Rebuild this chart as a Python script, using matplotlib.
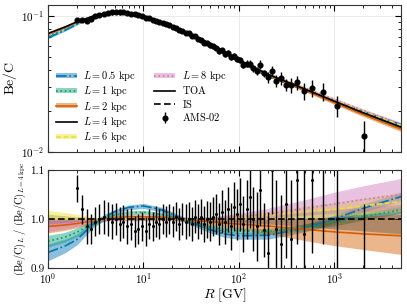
import numpy as np
import matplotlib
matplotlib.use("Agg")
import matplotlib.pyplot as plt
from matplotlib.lines import Line2D
from matplotlib.patches import Patch

plt.rcParams['font.family'] = 'serif'
plt.rcParams['font.serif'] = ['cmr10']
plt.rcParams['mathtext.fontset'] = 'cm'
plt.rcParams['axes.formatter.use_mathtext'] = True

# AMS-02 rigidity bins [GV]
bin_lo = [1.92, 2.15, 2.40, 2.67, 2.97, 3.29, 3.64, 4.02, 4.43, 4.88, 5.37, 5.90, 6.47, 7.09,
          7.76, 8.48, 9.26, 10.1, 11.0, 12.0, 13.0, 14.1, 15.3, 16.6, 18.0, 19.5, 21.1, 22.8,
          24.7, 26.7, 28.8, 31.1, 33.5, 36.1, 38.9, 41.9, 45.1, 48.5, 52.2, 56.1, 60.3, 64.8,
          69.7, 74.9, 80.5, 86.5, 93.0, 100, 108, 116, 125, 135, 147, 160, 175, 192, 211,
          233, 259, 291, 330, 379, 441, 525, 660, 880, 1300]
bin_hi = bin_lo[1:] + [3300]

# Be/C measured (top panel)
bec_data = [0.0935, 0.0925, 0.092, 0.0945, 0.099, 0.1015, 0.1035, 0.1045, 0.1055, 0.106,
            0.1055, 0.1055, 0.1045, 0.1035, 0.102, 0.1005, 0.099, 0.0965, 0.0955, 0.0935,
            0.0915, 0.0895, 0.0885, 0.0865, 0.085, 0.0825, 0.0815, 0.0785, 0.0775, 0.075,
            0.074, 0.071, 0.0705, 0.0675, 0.0665, 0.0635, 0.063, 0.0605, 0.0595, 0.058,
            0.055, 0.0555, 0.0525, 0.0535, 0.0495, 0.0505, 0.048, 0.0475, 0.0435, 0.0445,
            0.0445, 0.041, 0.0395, 0.0438, 0.0377, 0.0355, 0.0392, 0.0331, 0.0347, 0.0312,
            0.031, 0.0324, 0.0282, 0.0295, 0.0277, 0.0219, 0.0131]

# data / model(L=4 kpc) (bottom panel)
ratio_data = [1.063, 1.02, 0.985, 0.98, 0.995, 1.0, 1.005, 1.0, 0.995, 1.0, 0.99, 0.995,
              0.985, 0.99, 0.975, 0.98, 0.985, 0.975, 0.99, 0.985, 0.995, 0.99, 1.0, 0.995,
              1.0, 0.995, 1.005, 0.99, 1.0, 0.995, 1.0, 0.99, 1.005, 0.995, 1.005, 0.99, 1.0,
              0.995, 1.005, 1.01, 0.99, 1.015, 0.995, 1.02, 0.985, 1.025, 1.01, 1.03, 0.99,
              1.02, 1.045, 1.0, 0.985, 1.06, 0.977, 0.93, 1.1, 0.98, 0.95, 1.03, 0.96, 1.08,
              0.97, 1.08, 1.12, 1.0, 0.8]
ratio_err = [0.028, 0.03, 0.035, 0.03, 0.03, 0.03, 0.035, 0.035, 0.035, 0.033, 0.035, 0.033,
             0.035, 0.032, 0.032, 0.03, 0.03, 0.03, 0.03, 0.03, 0.032, 0.03, 0.03, 0.032,
             0.03, 0.032, 0.03, 0.032, 0.033, 0.035, 0.034, 0.035, 0.034, 0.035, 0.036, 0.037,
             0.038, 0.04, 0.04, 0.041, 0.043, 0.044, 0.045, 0.046, 0.048, 0.05, 0.052, 0.055,
             0.057, 0.06, 0.063, 0.066, 0.07, 0.075, 0.055, 0.085, 0.09, 0.1, 0.1, 0.11, 0.12,
             0.13, 0.14, 0.15, 0.17, 0.18, 0.23]

# model grid
grid_R = [1, 1.5, 2, 3, 4, 5, 7, 10, 15, 20, 30, 50, 70, 100, 200, 500, 1000, 2000, 5000]
bec_L4 = [0.074, 0.0825, 0.090, 0.0995, 0.1035, 0.1055, 0.1035, 0.098, 0.089, 0.0835, 0.0745,
          0.0625, 0.0548, 0.0475, 0.0372, 0.0288, 0.0236, 0.0194, 0.0152]

ratio_L05 = [0.932, 0.945, 0.958, 0.990, 1.005, 1.015, 1.024, 1.027, 1.020, 1.010, 0.995,
             0.978, 0.970, 0.966, 0.967, 0.982, 1.000, 1.022, 1.046]
half_L05 = [0.017, 0.014, 0.011, 0.007, 0.006, 0.005, 0.005, 0.005, 0.005, 0.005, 0.005,
            0.006, 0.007, 0.007, 0.008, 0.008, 0.008, 0.008, 0.009]
ratio_L1 = [0.955, 0.963, 0.973, 0.993, 1.002, 1.008, 1.013, 1.014, 1.010, 1.005, 0.995,
            0.984, 0.979, 0.976, 0.975, 0.983, 0.993, 1.005, 1.019]
half_L1 = [0.012, 0.010, 0.009, 0.006, 0.005, 0.004, 0.004, 0.004, 0.004, 0.004, 0.004,
           0.005, 0.005, 0.006, 0.006, 0.007, 0.007, 0.007, 0.007]
ratio_L2 = [0.985, 0.988, 0.991, 0.997, 1.001, 1.003, 1.005, 1.005, 1.004, 1.002, 0.999,
            0.995, 0.992, 0.990, 0.986, 0.979, 0.974, 0.970, 0.966]
lo_L2 = [0.972, 0.977, 0.982, 0.992, 0.997, 0.999, 1.001, 1.001, 1.0, 0.998, 0.994, 0.988,
         0.984, 0.980, 0.970, 0.956, 0.946, 0.938, 0.928]
hi_L2 = [0.998, 0.999, 1.0, 1.002, 1.005, 1.007, 1.009, 1.009, 1.008, 1.006, 1.004, 1.002,
         1.0, 1.0, 1.0, 1.002, 1.004, 1.006, 1.01]
lo_L4 = [0.99, 0.993, 0.995, 0.997, 0.997, 0.997, 0.997, 0.997, 0.997, 0.997, 0.997, 0.996,
         0.995, 0.994, 0.99, 0.985, 0.98, 0.976, 0.97]
hi_L4 = [1.01, 1.007, 1.005, 1.003, 1.003, 1.003, 1.003, 1.003, 1.003, 1.003, 1.003, 1.004,
         1.005, 1.006, 1.01, 1.015, 1.02, 1.024, 1.03]
ratio_L6 = [1.001, 1.001, 1.0, 1.0, 1.0, 1.0, 1.0, 1.0, 1.0, 1.0, 1.0, 1.001, 1.002, 1.003,
            1.008, 1.015, 1.020, 1.027, 1.036]
lo_L6 = [0.999, 0.999, 0.998, 0.997, 0.997, 0.997, 0.997, 0.997, 0.997, 0.997, 0.997, 0.998,
         0.998, 0.999, 1.0, 1.003, 1.006, 1.010, 1.016]
hi_L6 = [1.018, 1.014, 1.010, 1.004, 1.003, 1.003, 1.003, 1.003, 1.003, 1.003, 1.003, 1.004,
         1.006, 1.008, 1.015, 1.027, 1.034, 1.043, 1.055]
ratio_L8 = [0.990, 0.992, 0.994, 0.998, 0.999, 1.0, 1.0, 1.0, 1.0, 1.0, 1.0, 1.001, 1.003,
            1.005, 1.010, 1.022, 1.031, 1.040, 1.050]
lo_L8 = [0.975, 0.980, 0.985, 0.994, 0.996, 0.997, 0.997, 0.997, 0.997, 0.997, 0.997, 0.998,
         0.999, 1.0, 1.002, 1.008, 1.012, 1.015, 1.018]
hi_L8 = [1.0, 1.0, 1.0, 1.001, 1.002, 1.003, 1.003, 1.003, 1.003, 1.003, 1.003, 1.005, 1.008,
         1.012, 1.022, 1.040, 1.055, 1.068, 1.083]

# arrays
R = np.array(grid_R)
toa = np.array(bec_L4)
Rdat = np.sqrt(np.array(bin_lo) * np.array(bin_hi))
ydat = np.array(bec_data)
rdat = np.array(ratio_data)
rerr = np.array(ratio_err)
yerr = ydat * rerr / rdat

r05 = np.array(ratio_L05); h05 = np.array(half_L05)
r1 = np.array(ratio_L1); h1 = np.array(half_L1)

# (label, color, linestyle, center, lo, hi)
models = [
    (r"$L = 0.5\ \mathrm{kpc}$", "#0173B2", "-.", r05, r05 - h05, r05 + h05),
    (r"$L = 1\ \mathrm{kpc}$", "#029E73", ":", r1, r1 - h1, r1 + h1),
    (r"$L = 2\ \mathrm{kpc}$", "#D55E00", "-", np.array(ratio_L2), np.array(lo_L2), np.array(hi_L2)),
    (r"$L = 4\ \mathrm{kpc}$", "black", "-", np.ones(len(R)), np.array(lo_L4), np.array(hi_L4)),
    (r"$L = 6\ \mathrm{kpc}$", "#ECE133", (0, (3, 1.5)), np.array(ratio_L6), np.array(lo_L6), np.array(hi_L6)),
    (r"$L = 8\ \mathrm{kpc}$", "#CC78BC", ":", np.array(ratio_L8), np.array(lo_L8), np.array(hi_L8)),
]

fig = plt.figure(figsize=(4.07, 3.05), dpi=100)
ax1 = fig.add_axes([0.118, 0.502, 0.867, 0.482])
ax2 = fig.add_axes([0.118, 0.121, 0.867, 0.321], sharex=ax1)

handles = []
for lab, col, ls, c, lo, hi in models:
    balpha = 0.25 if col == "black" else 0.45
    ax1.fill_between(R, toa * lo, toa * hi, color=col, alpha=balpha, lw=0)
    ax2.fill_between(R, lo, hi, color=col, alpha=balpha, lw=0)
    if col != "black":
        ax1.plot(R, toa * c, color=col, ls=ls, lw=1.2)
        ax2.plot(R, c, color=col, ls=ls, lw=1.2)
    ln = Line2D([], [], color=col, ls=ls, lw=1.2)
    if col == "black":
        handles.append(ln)
    else:
        handles.append((Patch(color=col, alpha=0.45, lw=0), ln))

ax1.plot(R, toa, color="black", lw=1.2)
ax2.plot(R, np.ones(len(R)), color="black", ls=(0, (4, 2)), lw=1.2)

ax1.errorbar(Rdat, ydat, yerr=yerr, fmt="o", color="black", ms=3.4, elinewidth=1, capsize=0)
ax2.errorbar(Rdat, rdat, yerr=rerr, fmt="o", color="black", ms=1.2, elinewidth=1, capsize=0)

labels = [m[0] for m in models]
handles += [Line2D([], [], color="black", lw=1.2),
            Line2D([], [], color="black", ls=(0, (4, 2)), lw=1.2),
            ax1.errorbar([], [], yerr=[], fmt="o", color="black", ms=3.4, elinewidth=1)]
labels += [r"$\mathrm{TOA}$", r"$\mathrm{IS}$", r"$\mathrm{AMS}$-$02$"]
ax1.legend(handles, labels, ncol=2, loc="lower left", frameon=False, fontsize=7.5,
           handlelength=2.0, handleheight=0.4, labelspacing=0.12, columnspacing=1.8,
           handletextpad=0.6, borderaxespad=0.35)

for ax in (ax1, ax2):
    ax.set_xscale("log")
    ax.set_xlim(1, 5000)
    ax.tick_params(which="both", direction="in", top=True, right=True, labelsize=8, pad=2.5)
    ax.tick_params(which="major", length=4)
    ax.tick_params(which="minor", length=2)
    ax.grid(which="major", color="#e6e6e6", lw=0.6)
    ax.set_axisbelow(True)
    for s in ax.spines.values():
        s.set_color("#333333")

ax1.set_yscale("log")
ax1.set_ylim(0.01, 0.12)
ax1.set_ylabel(r"$\mathrm{Be/C}$", fontsize=10, labelpad=2)
plt.setp(ax1.get_xticklabels(), visible=False)

ax2.set_ylim(0.9, 1.1)
ax2.set_yticks([0.9, 1.0, 1.1])
ax2.set_yticklabels(["0.9", "1.0", "1.1"])
ax2.set_ylabel(r"$(\mathrm{Be/C})_L\ /\ (\mathrm{Be/C})_{L=4\,\mathrm{kpc}}$", fontsize=7.5,
               labelpad=2)
ax2.set_xlabel(r"$R\ [\mathrm{GV}]$", fontsize=10, labelpad=0)

fig.savefig("out.png", dpi=100)
